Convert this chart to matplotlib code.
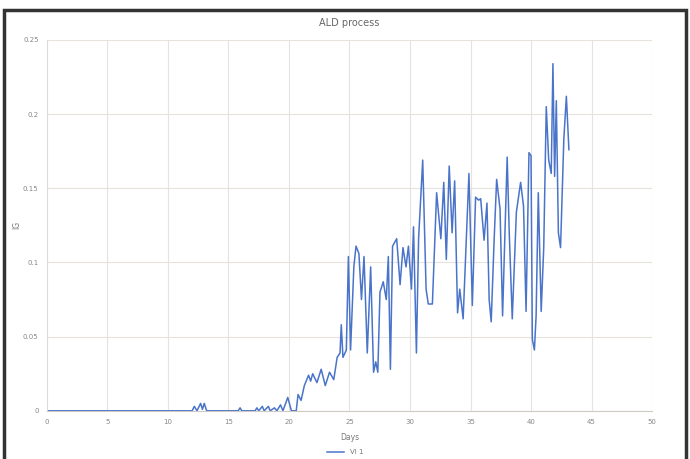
import matplotlib
matplotlib.use("Agg")
import matplotlib.pyplot as plt
from matplotlib.patches import Rectangle

days = [0, 12.0, 12.18, 12.4, 12.7, 12.85, 13.0, 13.2, 15.8, 15.96, 16.1,
        17.2, 17.35, 17.5, 17.8, 17.95, 18.3, 18.45, 18.8, 19.0, 19.3, 19.5,
        19.9, 20.2, 20.6, 20.75, 21.0, 21.27, 21.62, 21.79, 21.96, 22.31,
        22.66, 23.0, 23.35, 23.7, 23.98, 24.22, 24.32, 24.46, 24.74, 24.91,
        25.09, 25.36, 25.54, 25.78, 25.99, 26.2, 26.47, 26.75, 26.99, 27.17,
        27.34, 27.52, 27.79, 28.04, 28.21, 28.38, 28.56, 28.9, 29.18, 29.42,
        29.67, 29.87, 30.12, 30.29, 30.53, 30.71, 31.05, 31.33, 31.51, 31.85,
        32.2, 32.55, 32.79, 33.0, 33.24, 33.48, 33.69, 33.93, 34.11, 34.39,
        34.63, 34.87, 35.15, 35.42, 35.67, 35.84, 36.12, 36.36, 36.54, 36.71,
        36.95, 37.16, 37.44, 37.65, 37.86, 38.03, 38.2, 38.45, 38.79, 39.14,
        39.38, 39.59, 39.83, 40.0, 40.11, 40.28, 40.42, 40.6, 40.84, 41.05,
        41.26, 41.46, 41.67, 41.81, 41.95, 42.09, 42.26, 42.44, 42.71, 42.92,
        43.13]
vi1 = [0, 0, 0.003, 0, 0.005, 0.001, 0.005, 0, 0, 0.002, 0,
       0, 0.002, 0, 0.003, 0, 0.003, 0, 0.002, 0, 0.004, 0,
       0.009, 0, 0, 0.011, 0.007, 0.017, 0.024, 0.020, 0.025, 0.019,
       0.028, 0.017, 0.026, 0.021, 0.036, 0.039, 0.058, 0.036, 0.041, 0.104,
       0.041, 0.097, 0.111, 0.106, 0.075, 0.104, 0.039, 0.097, 0.026, 0.033,
       0.026, 0.080, 0.087, 0.075, 0.104, 0.028, 0.111, 0.116, 0.085, 0.110,
       0.097, 0.111, 0.082, 0.124, 0.039, 0.116, 0.169, 0.082, 0.072, 0.072,
       0.147, 0.116, 0.154, 0.102, 0.165, 0.120, 0.155, 0.066, 0.082, 0.062,
       0.111, 0.160, 0.071, 0.144, 0.142, 0.143, 0.115, 0.140, 0.075, 0.060,
       0.115, 0.156, 0.136, 0.064, 0.124, 0.171, 0.120, 0.062, 0.134, 0.154,
       0.138, 0.067, 0.174, 0.172, 0.048, 0.041, 0.064, 0.147, 0.067, 0.110,
       0.205, 0.169, 0.160, 0.234, 0.158, 0.209, 0.120, 0.110, 0.183, 0.212,
       0.176]

x_ticks = [0, 5, 10, 15, 20, 25, 30, 35, 40, 45, 50]
y_ticks = [0, 0.05, 0.1, 0.15, 0.2, 0.25]
y_ticklabels = ["0", "0.05", "0.1", "0.15", "0.2", "0.25"]

fig = plt.figure(figsize=(6.9, 4.59), dpi=100)
ax = fig.add_axes([0.068, 0.105, 0.877, 0.808])

ax.plot(days, vi1, color="#4a74c9", lw=1.1, label="VI 1")
ax.set_xlim(0, 50)
ax.set_ylim(0, 0.25)
ax.set_xticks(x_ticks)
ax.set_yticks(y_ticks)
ax.set_yticklabels(y_ticklabels)
ax.tick_params(labelsize=5, colors="#888888", length=0, pad=6)
ax.grid(True, color="#e8e2dc", lw=0.8)
ax.set_axisbelow(True)
for s in ["top", "right"]:
    ax.spines[s].set_visible(False)
ax.spines["left"].set_color("#e0dad4")
ax.spines["bottom"].set_color("#cfcac5")

ax.set_title("ALD process", fontsize=7, color="#666666", pad=10)
ax.set_xlabel("Days", fontsize=5.5, color="#777777", labelpad=6)
ax.set_ylabel("IG", fontsize=5.5, color="#777777")
ax.yaxis.set_label_coords(-0.042, 0.5)
fig.legend(loc="lower center", bbox_to_anchor=(0.5, -0.005), frameon=False,
           fontsize=5, labelcolor="#777777", handlelength=2.5)

fig.patches.append(Rectangle((0.006, -0.1), 0.988, 1.078, transform=fig.transFigure,
                             fill=False, edgecolor="#333333", lw=2.5))

fig.savefig("out.png", dpi=100)
